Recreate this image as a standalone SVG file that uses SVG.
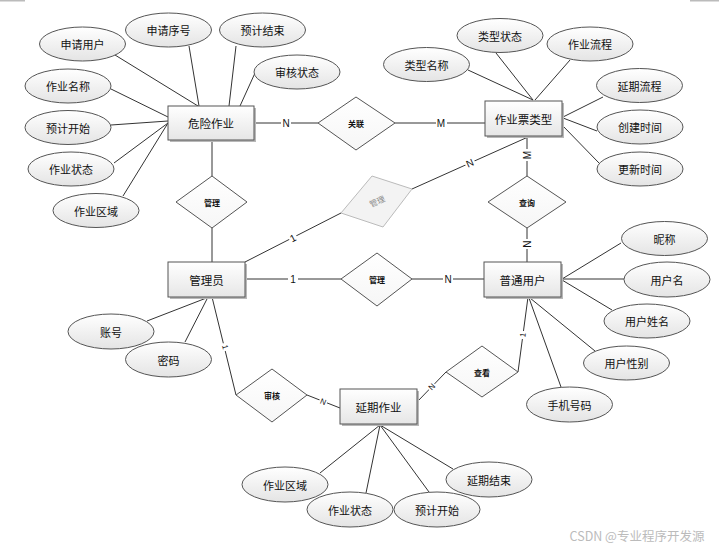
<svg xmlns="http://www.w3.org/2000/svg" width="719" height="549" viewBox="0 0 719 549">
<defs>
<linearGradient id="gE" x1="0" y1="0" x2="0" y2="1"><stop offset="0" stop-color="#ffffff"/><stop offset="1" stop-color="#e4e4e4"/></linearGradient>
<linearGradient id="gR" x1="0" y1="0" x2="0" y2="1"><stop offset="0" stop-color="#ffffff"/><stop offset="1" stop-color="#e6e6e6"/></linearGradient>
<linearGradient id="gD" x1="0" y1="0" x2="0" y2="1"><stop offset="0" stop-color="#ffffff"/><stop offset="1" stop-color="#f6f6f6"/></linearGradient>
</defs>
<style>
text{font-family:"Noto Sans CJK SC","Liberation Sans",sans-serif;text-anchor:middle;dominant-baseline:central;fill:#111}
.ent rect.b{fill:url(#gR);stroke:#555;stroke-width:1}
.ent rect.s{fill:#b8b8b8;stroke:none}
.ent text{font-size:11.5px}
.att ellipse{fill:url(#gE);stroke:#555;stroke-width:1}
.att text{font-size:11px}
.rel polygon{fill:url(#gD);stroke:#555;stroke-width:1}
.rel text{font-size:8px;font-weight:bold}
.conn line{stroke:#333;stroke-width:1}
.lbl rect{fill:#fff}
.lbl text{font-family:"Liberation Sans",sans-serif;font-size:10px}
</style>
<rect width="719" height="549" fill="#fff"/>
<rect x="0" y="0" width="25" height="1.5" fill="#bbb"/>
<rect x="690" y="0" width="29" height="1.5" fill="#bbb"/>
<g id="connectors" class="conn">
<line x1="115" y1="55" x2="198" y2="106"/>
<line x1="189" y1="46" x2="199" y2="106"/>
<line x1="236" y1="46" x2="229" y2="106"/>
<line x1="255" y1="73" x2="240" y2="106"/>
<line x1="111" y1="89" x2="168" y2="117"/>
<line x1="111" y1="125" x2="168" y2="121"/>
<line x1="114" y1="163" x2="168" y2="123"/>
<line x1="123" y1="196" x2="168" y2="123"/>
<line x1="468" y1="70" x2="533" y2="100"/>
<line x1="496" y1="53" x2="533" y2="100"/>
<line x1="570" y1="60" x2="535" y2="100"/>
<line x1="603" y1="97" x2="563" y2="117"/>
<line x1="597" y1="131" x2="563" y2="118"/>
<line x1="599" y1="163" x2="562" y2="125"/>
<line x1="147" y1="321" x2="209" y2="297"/>
<line x1="185" y1="342" x2="208" y2="297"/>
<line x1="562" y1="279" x2="621" y2="243"/>
<line x1="562" y1="279" x2="624" y2="279"/>
<line x1="562" y1="280" x2="612" y2="310"/>
<line x1="530" y1="298" x2="595" y2="351"/>
<line x1="529" y1="298" x2="561" y2="387"/>
<line x1="380" y1="425" x2="320" y2="473"/>
<line x1="380" y1="425" x2="366" y2="493"/>
<line x1="380" y1="425" x2="429" y2="492"/>
<line x1="380" y1="425" x2="453" y2="469"/>
<line x1="254" y1="123" x2="318" y2="123"/>
<line x1="395" y1="123" x2="485" y2="123"/>
<line x1="212" y1="140" x2="212" y2="176"/>
<line x1="212" y1="228" x2="212" y2="262"/>
<line x1="527" y1="136" x2="527" y2="176"/>
<line x1="527" y1="228" x2="527" y2="262"/>
<line x1="245" y1="279" x2="341" y2="279"/>
<line x1="412" y1="279" x2="484" y2="279"/>
<line x1="245" y1="262" x2="341" y2="213"/>
<line x1="412" y1="189" x2="528" y2="137"/>
<line x1="212" y1="297" x2="236" y2="395"/>
<line x1="307" y1="395" x2="340" y2="408"/>
<line x1="518" y1="372" x2="528" y2="297"/>
<line x1="446" y1="372" x2="417" y2="402"/>
</g>
<g id="labels" class="lbl">
<rect x="281" y="117" width="10" height="12"/><text x="286" y="123">N</text>
<rect x="436" y="117" width="11" height="12"/><text x="441" y="123">M</text>
<rect x="521" y="149" width="12" height="12"/><text x="527" y="155" transform="rotate(-90 527 155)">M</text>
<rect x="521" y="239" width="12" height="10"/><text x="527" y="244" transform="rotate(-90 527 244)">N</text>
<rect x="288" y="273" width="10" height="12"/><text x="293" y="279">1</text>
<rect x="443" y="273" width="10" height="12"/><text x="448" y="279">N</text>
<g transform="rotate(-27 293 238)"><rect x="289" y="232" width="8" height="12"/><text x="293" y="238">1</text></g>
<g transform="rotate(-24 470 163)"><rect x="465" y="157" width="10" height="12"/><text x="470" y="163">N</text></g>
<g transform="rotate(76 225 347)"><rect x="221" y="342" width="8" height="10"/><text x="225" y="347" style="font-size:8px">1</text></g>
<g transform="rotate(21 323 402)"><rect x="319" y="397" width="8" height="10"/><text x="323" y="402" style="font-size:8px">N</text></g>
<g transform="rotate(-82 523 335)"><rect x="519" y="330" width="8" height="10"/><text x="523" y="335" style="font-size:8px">1</text></g>
<g transform="rotate(-46 432 387)"><rect x="428" y="382" width="8" height="10"/><text x="432" y="387" style="font-size:8px">N</text></g>
</g>
<g id="attr-shenqingyonghu" class="att"><ellipse cx="82.5" cy="44" rx="43" ry="17"/><text x="82.5" y="44">申请用户</text></g>
<g id="attr-shenqingxuhao" class="att"><ellipse cx="168.5" cy="30" rx="43" ry="17"/><text x="168.5" y="30">申请序号</text></g>
<g id="attr-yujijieshu" class="att"><ellipse cx="262.5" cy="30" rx="43" ry="17"/><text x="262.5" y="30">预计结束</text></g>
<g id="attr-shenhezhuangtai" class="att"><ellipse cx="297" cy="72" rx="43" ry="17"/><text x="297" y="72">审核状态</text></g>
<g id="attr-zuoyemingcheng" class="att"><ellipse cx="68" cy="86" rx="43" ry="17"/><text x="68" y="86">作业名称</text></g>
<g id="attr-yujikaishi" class="att"><ellipse cx="68" cy="127.5" rx="43" ry="17"/><text x="68" y="127.5">预计开始</text></g>
<g id="attr-zuoyezhuangtai" class="att"><ellipse cx="71" cy="169" rx="43" ry="17"/><text x="71" y="169">作业状态</text></g>
<g id="attr-zuoyequyu" class="att"><ellipse cx="96" cy="210.5" rx="43" ry="17"/><text x="96" y="210.5">作业区域</text></g>
<g id="attr-leixingzhuangtai" class="att"><ellipse cx="500" cy="35.5" rx="43" ry="17"/><text x="500" y="35.5">类型状态</text></g>
<g id="attr-zuoyeliucheng" class="att"><ellipse cx="590" cy="44" rx="43" ry="17"/><text x="590" y="44">作业流程</text></g>
<g id="attr-leixingmingcheng" class="att"><ellipse cx="426.5" cy="64.5" rx="43" ry="17"/><text x="426.5" y="64.5">类型名称</text></g>
<g id="attr-yanqiliucheng" class="att"><ellipse cx="639.5" cy="85.5" rx="43" ry="17"/><text x="639.5" y="85.5">延期流程</text></g>
<g id="attr-chuangjianshijian" class="att"><ellipse cx="640" cy="127" rx="43" ry="17"/><text x="640" y="127">创建时间</text></g>
<g id="attr-gengxinshijian" class="att"><ellipse cx="640" cy="169" rx="43" ry="17"/><text x="640" y="169">更新时间</text></g>
<g id="attr-zhanghao" class="att"><ellipse cx="111" cy="331.5" rx="43" ry="17.5"/><text x="111" y="331.5">账号</text></g>
<g id="attr-mima" class="att"><ellipse cx="168.5" cy="359.5" rx="43" ry="17.5"/><text x="168.5" y="359.5">密码</text></g>
<g id="attr-nicheng" class="att"><ellipse cx="664.5" cy="238.5" rx="43" ry="17"/><text x="664.5" y="238.5">昵称</text></g>
<g id="attr-yonghuming" class="att"><ellipse cx="667" cy="279.5" rx="43" ry="17.5"/><text x="667" y="279.5">用户名</text></g>
<g id="attr-yonghuxingming" class="att"><ellipse cx="647" cy="321" rx="43" ry="17"/><text x="647" y="321">用户姓名</text></g>
<g id="attr-yonghuxingbie" class="att"><ellipse cx="626.5" cy="363" rx="43" ry="17"/><text x="626.5" y="363">用户性别</text></g>
<g id="attr-shoujihaoma" class="att"><ellipse cx="569.5" cy="404.5" rx="43" ry="17.5"/><text x="569.5" y="404.5">手机号码</text></g>
<g id="attr-yq-zuoyequyu" class="att"><ellipse cx="285" cy="484.5" rx="43" ry="17.5"/><text x="285" y="484.5">作业区域</text></g>
<g id="attr-yq-zuoyezhuangtai" class="att"><ellipse cx="350" cy="509.5" rx="43" ry="17.5"/><text x="350" y="509.5">作业状态</text></g>
<g id="attr-yq-yujikaishi" class="att"><ellipse cx="437" cy="509.5" rx="43" ry="17.5"/><text x="437" y="509.5">预计开始</text></g>
<g id="attr-yanqijieshu" class="att"><ellipse cx="489" cy="479.5" rx="43" ry="17.5"/><text x="489" y="479.5">延期结束</text></g>
<g id="rel-guanlian" class="rel"><polygon points="356,97 395,123 356,150 318,123"/><text x="356" y="123">关联</text></g>
<g id="rel-guanli-top" class="rel"><polygon points="212,176 247,202 212,228 176,202"/><text x="212" y="202">管理</text></g>
<g id="rel-guanli-grey" class="rel"><polygon points="372,176 412,189 383,227 341,213" style="stroke:#bbb;fill:#f3f3f3"/><text x="377" y="201" transform="rotate(-25 377 201)" style="fill:#888;font-weight:normal">管理</text></g>
<g id="rel-chaxun" class="rel"><polygon points="527,176 566,202 527,228 488,202"/><text x="527" y="202">查询</text></g>
<g id="rel-guanli-mid" class="rel"><polygon points="377,253 412,279 377,306 341,279"/><text x="377" y="279">管理</text></g>
<g id="rel-shenhe" class="rel"><polygon points="272,369 307,395 272,422 236,395"/><text x="272" y="395">审核</text></g>
<g id="rel-chakan" class="rel"><polygon points="482,346 518,372 482,397 446,372"/><text x="482" y="372">查看</text></g>
<g id="ent-weixianzuoye" class="ent"><rect class="s" x="170" y="108" width="86" height="34"/><rect class="b" x="168" y="106" width="86" height="34"/><text x="211" y="123">危险作业</text></g>
<g id="ent-zuoyepiaoleixing" class="ent"><rect class="s" x="487" y="103" width="77" height="35"/><rect class="b" x="485" y="101" width="77" height="35"/><text x="523.5" y="118.5">作业票类型</text></g>
<g id="ent-guanliyuan" class="ent"><rect class="s" x="170" y="264" width="77" height="35"/><rect class="b" x="168" y="262" width="77" height="35"/><text x="206.5" y="279.5">管理员</text></g>
<g id="ent-putongyonghu" class="ent"><rect class="s" x="486" y="264" width="77" height="35"/><rect class="b" x="484" y="262" width="77" height="35"/><text x="522.5" y="279.5">普通用户</text></g>
<g id="ent-yanqizuoye" class="ent"><rect class="s" x="342" y="391" width="77" height="35"/><rect class="b" x="340" y="389" width="77" height="35"/><text x="378.5" y="406.5">延期作业</text></g>
<text x="637" y="535" style="font-size:12.5px;fill:#bbb">CSDN @专业程序开发源</text>
</svg>
